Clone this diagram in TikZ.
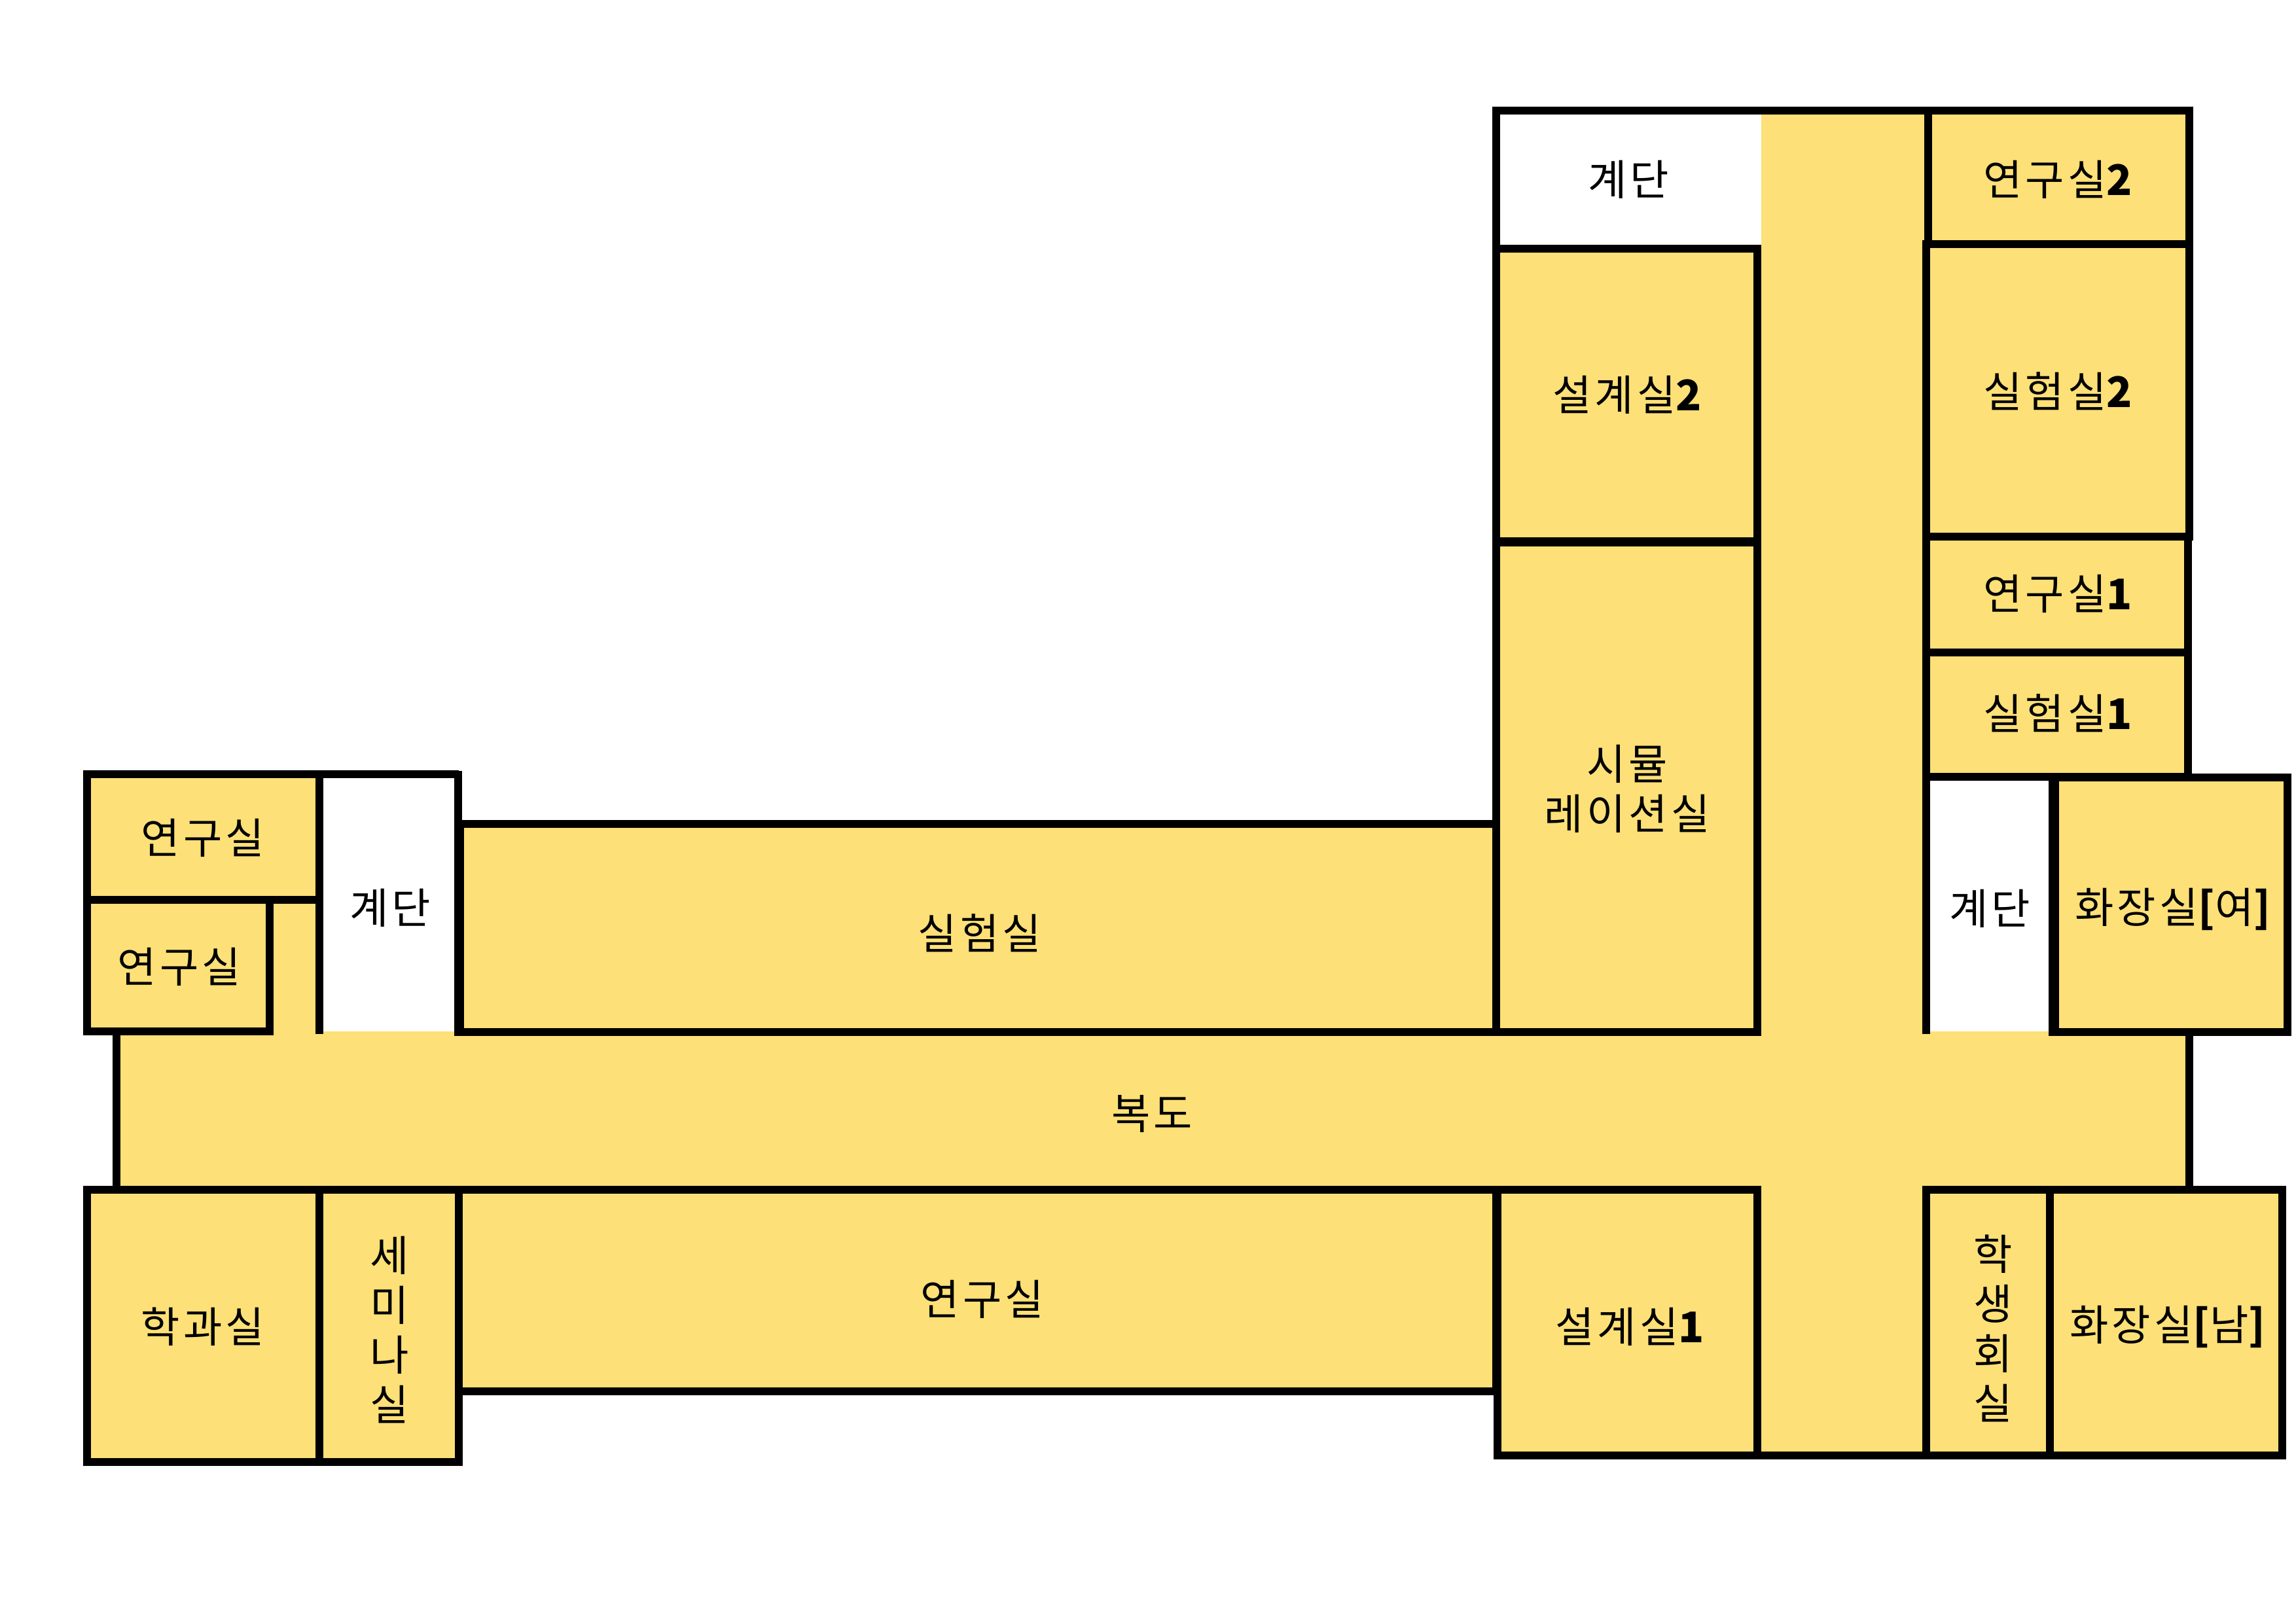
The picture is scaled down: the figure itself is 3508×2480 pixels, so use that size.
\documentclass[tikz,border=0pt]{standalone}
\usepackage{fontspec}
\setmainfont{Noto Sans CJK KR}[LetterSpace=8]
\definecolor{roomfill}{HTML}{FDE077}
\tikzset{
  room/.style={fill=roomfill,draw=black,line width=12pt,line join=miter},
  wall/.style={draw=black,line width=12pt,line cap=butt},
  lab/.style={inner sep=0pt,outer sep=0pt,align=center,font=\fontsize{64.5pt}{76pt}\selectfont,text=black}
}
\newcommand{\bd}[1]{{\bfseries #1}}
\begin{document}
\begin{tikzpicture}[x=1pt,y=-1pt]
\useasboundingbox (0,0) rectangle (3508,2480);
% corridors
\fill[roomfill] (178,1576) rectangle (3345,1817);
\fill[roomfill] (2691,168) rectangle (2946,380);
\fill[roomfill] (2685,380) rectangle (2946,2224);
\fill[roomfill] (412,1375) rectangle (488,1580);
% walls
\draw[wall] (2286,163) -- (2286,380);
\draw[wall] (2280,169) -- (3351,169);
\draw[wall] (2280,380) -- (2691,380);
\draw[wall] (488,1183) -- (488,1580);
\draw[wall] (133,1183) -- (701,1183);
\draw[wall] (700,1178) -- (700,1580);
\draw[wall] (2943,1187) -- (2943,1580);
\draw[wall] (178,1576) -- (178,1817);
\draw[wall] (3345,1576) -- (3345,1822);
\draw[wall] (2685,2224) -- (2943,2224);
% rooms
\draw[room] (133,1183) rectangle (488,1375);
\draw[room] (133,1375) rectangle (412,1576);
\draw[room] (133,1818) rectangle (488,2234);
\draw[room] (488,1818) rectangle (701,2234);
\draw[room] (701,1259) rectangle (2286,1577);
\draw[room] (701,1818) rectangle (2286,2126);
\draw[room] (2288,1818) rectangle (2685,2224);
\draw[room] (2286,380) rectangle (2685,828);
\draw[room] (2286,828) rectangle (2685,1577);
\draw[wall,line width=14pt] (2280,828) -- (2691,828);
\draw[room] (2946,169) rectangle (3345,373);
\draw[room] (2943,373) rectangle (3345,820);
\draw[room] (2943,820) rectangle (3343,997);
\draw[room] (2943,997) rectangle (3343,1187);
\draw[room] (3138,1188) rectangle (3495,1577);
\draw[wall,line width=16pt] (3138,1182) -- (3138,1583);
\draw[wall,line width=15pt] (701,1253) -- (701,1583);
\draw[room] (2943,1818) rectangle (3132,2224);
\draw[room] (3132,1818) rectangle (3487,2224);
% labels
\node[lab] (stairA) at (2488,274) {계단};
\node[lab] (labB) at (3144,274) {연구실\bd{2}};
\node[lab] (design2) at (2486,603) {설계실\bd{2}};
\node[lab] (exp2) at (3144,598) {실험실\bd{2}};
\node[lab] (lab1) at (3144,907) {연구실\bd{1}};
\node[lab] (exp1) at (3144,1090) {실험실\bd{1}};
\node[lab] (sim) at (2486,1205) {시뮬\\레이션실};
\node[lab] (stairB) at (3040,1388) {계단};
\node[lab] (wcF) at (3320,1389) {화장실\bd{[}여\bd{]}};
\node[lab] (exp) at (1497,1426) {실험실};
\node[lab] (hall) at (1760,1702) {복도};
\node[lab] (labC) at (1501,1985) {연구실};
\node[lab] (design1) at (2490,2027) {설계실\bd{1}};
\node[lab] (student) at (3045,2030) {학\\생\\회\\실};
\node[lab] (wcM) at (3312,2027) {화장실\bd{[}남\bd{]}};
\node[lab] (office) at (310,2027) {학과실};
\node[lab] (seminar) at (595,2032) {세\\미\\나\\실};
\node[lab] (stairC) at (596,1387) {계단};
\node[lab] (labD) at (310,1280) {연구실};
\node[lab] (labE) at (274,1477) {연구실};
\end{tikzpicture}
\end{document}
